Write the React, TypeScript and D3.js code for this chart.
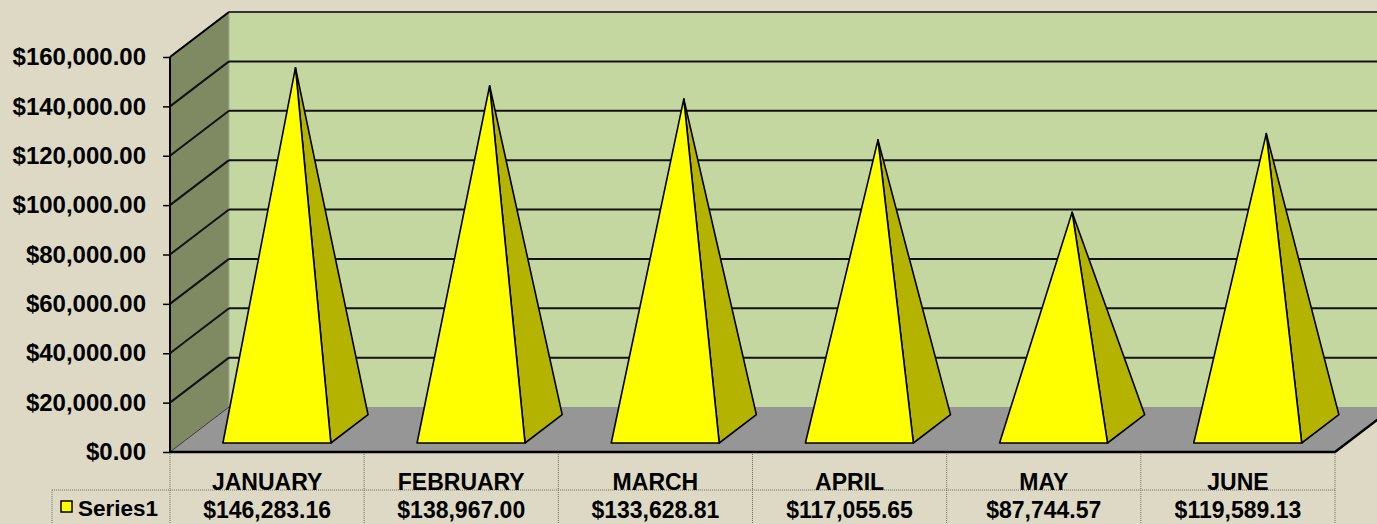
import React, { useEffect, useRef } from "react";
import * as d3 from "d3";

const categories = ["JANUARY", "FEBRUARY", "MARCH", "APRIL", "MAY", "JUNE"];
const series1 = [146283.16, 138967.0, 133628.81, 117055.65, 87744.57, 119589.13];
const yTicks = [0, 20000, 40000, 60000, 80000, 100000, 120000, 140000, 160000];
const seriesName = "Series1";

export default function App() {
  const ref = useRef<SVGSVGElement | null>(null);

  useEffect(() => {
    const W = 1377,
      H = 524;
    const left = 170,
      right = 1335,
      depthX = 59,
      depthY = -45;
    const font = "'Liberation Sans', Arial, sans-serif";

    const svg = d3.select(ref.current);
    svg.selectAll("*").remove();
    svg.attr("width", W).attr("height", H);

    var y = d3.scaleLinear().domain([0, 160000]).range([452, 57]);
    var x = d3.scaleBand().domain(categories).range([left, right]);

    // project a front-plane point into depth
    const proj = (px: number, v: number, f: number): [number, number] => [
      px + f * depthX,
      y(v) + f * depthY
    ];
    const pts = (arr: [number, number][]) => arr.map(p => p.join(",")).join(" ");

    svg.append("rect").attr("width", W).attr("height", H).attr("fill", "#ddd9c4");

    const yMax = yTicks[yTicks.length - 1];

    // back wall
    const bTop = proj(left, yMax, 1);
    const bBot = proj(left, 0, 1);
    svg
      .append("rect")
      .attr("x", bTop[0])
      .attr("y", bTop[1])
      .attr("width", W - bTop[0] + 20)
      .attr("height", bBot[1] - bTop[1])
      .attr("fill", "#c5d7a1");

    // side wall
    svg
      .append("polygon")
      .attr("points", pts([proj(left, yMax, 0), proj(left, yMax, 1), proj(left, 0, 1), proj(left, 0, 0)]))
      .attr("fill", "#7f8a63");
    svg
      .append("line")
      .attr("x1", bTop[0])
      .attr("x2", bTop[0])
      .attr("y1", bTop[1])
      .attr("y2", bBot[1])
      .attr("stroke", "#a0a890")
      .attr("stroke-width", 1);

    // floor
    svg
      .append("polygon")
      .attr("points", pts([proj(left, 0, 0), proj(left, 0, 1), proj(right, 0, 1), proj(right, 0, 0)]))
      .attr("fill", "#969696");
    svg
      .append("line")
      .attr("x1", proj(left, 0, 0)[0])
      .attr("y1", proj(left, 0, 0)[1])
      .attr("x2", proj(left, 0, 1)[0])
      .attr("y2", proj(left, 0, 1)[1])
      .attr("stroke", "#3a3a3a")
      .attr("stroke-width", 1);

    // gridlines
    yTicks
      .filter(t => t > 0)
      .forEach(t => {
        const a = proj(left, t, 0);
        const b = proj(left, t, 1);
        svg
          .append("line")
          .attr("x1", a[0])
          .attr("y1", a[1])
          .attr("x2", b[0])
          .attr("y2", b[1])
          .attr("stroke", "#111")
          .attr("stroke-width", 2);
        svg
          .append("line")
          .attr("x1", b[0])
          .attr("y1", b[1])
          .attr("x2", W + 10)
          .attr("y2", b[1])
          .attr("stroke", "#111")
          .attr("stroke-width", 2);
      });

    // pyramids
    const f0 = 0.2,
      f1 = 0.83;
    const baseW = x.bandwidth() * 0.556;
    categories.forEach((c, i) => {
      const cx = (x(c) as number) + x.bandwidth() / 2 - 2;
      const FL = proj(cx - baseW / 2, 0, f0);
      const FR = proj(cx + baseW / 2, 0, f0);
      const BR = proj(cx + baseW / 2, 0, f1);
      const apex = proj(cx, series1[i], (f0 + f1) / 2);
      const g = svg.append("g").attr("stroke", "#000").attr("stroke-width", 1.6).attr("stroke-linejoin", "round");
      g.append("polygon").attr("points", pts([FR, BR, apex])).attr("fill", "#b3b300");
      g.append("polygon").attr("points", pts([FL, FR, apex])).attr("fill", "#ffff00");
    });

    // front axis + floor edges
    svg
      .append("line")
      .attr("x1", left)
      .attr("x2", left)
      .attr("y1", y(yMax))
      .attr("y2", y(0))
      .attr("stroke", "#000")
      .attr("stroke-width", 2);
    svg
      .append("polyline")
      .attr("points", pts([proj(left, yMax, 0), proj(left, yMax, 1)]))
      .attr("stroke", "#000")
      .attr("stroke-width", 1.5)
      .attr("fill", "none");
    svg
      .append("line")
      .attr("x1", bTop[0])
      .attr("x2", W + 10)
      .attr("y1", bTop[1])
      .attr("y2", bTop[1])
      .attr("stroke", "#333")
      .attr("stroke-width", 2);
    svg
      .append("polyline")
      .attr("points", pts([proj(left, 0, 0), proj(right, 0, 0), proj(right, 0, 1)]))
      .attr("stroke", "#000")
      .attr("stroke-width", 2.5)
      .attr("fill", "none");

    // y axis
    const yAxis = svg
      .append("g")
      .attr("transform", "translate(" + left + ",0)")
      .call(
        d3
          .axisLeft(y)
          .tickValues(yTicks)
          .tickSize(7)
          .tickPadding(17)
          .tickFormat(d => d3.format("$,.2f")(d as number))
      );
    yAxis.select(".domain").remove();
    yAxis.selectAll("line").attr("stroke", "#000").attr("stroke-width", 1.5);
    yAxis
      .selectAll("text")
      .attr("fill", "#000")
      .style("font-family", font)
      .style("font-weight", "bold")
      .style("font-size", "24px");

    // data table
    const grid = svg
      .append("g")
      .attr("stroke", "#6e6e62")
      .attr("stroke-width", 1)
      .attr("stroke-dasharray", "1,1")
      .attr("fill", "none");
    const bounds = categories.map(c => x(c) as number).concat([right]);
    bounds.forEach(bx => {
      grid.append("line").attr("x1", bx).attr("x2", bx).attr("y1", 454).attr("y2", H);
    });
    grid.append("line").attr("x1", 52).attr("x2", right).attr("y1", 490).attr("y2", 490);
    grid.append("line").attr("x1", 52).attr("x2", 52).attr("y1", 490).attr("y2", H);

    const fmt = d3.format("$,.2f");
    categories.forEach((c, i) => {
      const cx = (x(c) as number) + x.bandwidth() / 2;
      svg
        .append("text")
        .attr("x", cx)
        .attr("y", 490)
        .attr("text-anchor", "middle")
        .style("font-family", font)
        .style("font-weight", "bold")
        .style("font-size", "23px")
        .text(c);
      svg
        .append("text")
        .attr("x", cx)
        .attr("y", 518)
        .attr("text-anchor", "middle")
        .style("font-family", font)
        .style("font-weight", "bold")
        .style("font-size", "23px")
        .text(fmt(series1[i]));
    });

    // legend key
    svg
      .append("rect")
      .attr("x", 61)
      .attr("y", 501)
      .attr("width", 11)
      .attr("height", 11)
      .attr("fill", "#ffff00")
      .attr("stroke", "#000")
      .attr("stroke-width", 1.5);
    svg
      .append("text")
      .attr("x", 78)
      .attr("y", 516)
      .style("font-family", font)
      .style("font-weight", "bold")
      .style("font-size", "22.5px")
      .text(seriesName);
  }, []);

  return (
    <div style={{ position: "absolute", left: 0, top: 0 }}>
      <svg ref={ref} style={{ display: "block" }} />
    </div>
  );
}
